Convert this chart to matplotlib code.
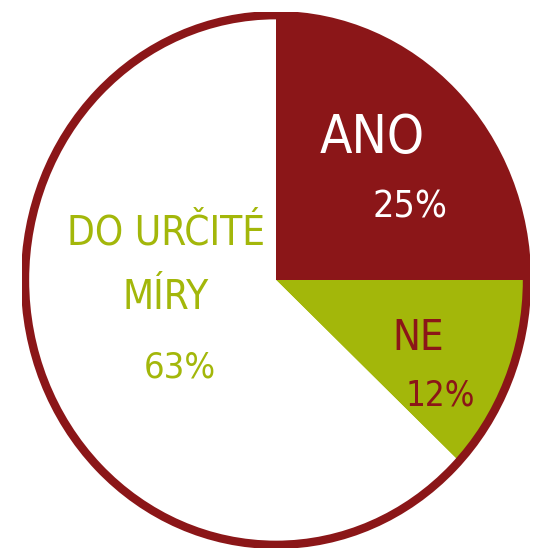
import matplotlib
matplotlib.use("Agg")
import matplotlib.pyplot as plt
from matplotlib.patches import Ellipse

# === Data ===
labels = ["ANO", "NE", "DO URČITÉ\nMÍRY"]
values = [25, 12, 63]
pct_labels = ["25%", "12%", "63%"]

red = "#8b1618"
green = "#a3b70a"
colors = [red, green, "white"]

W, H = 536, 554
fig = plt.figure(figsize=(W / 100, H / 100), dpi=100)
fig.patch.set_facecolor("white")

# axes spans the hand-drawn circle (slightly taller than wide)
ax = fig.add_axes([22 / W, 6 / H, 508 / W, 536 / H])
ax.pie(values, colors=colors, startangle=90, counterclock=False,
       wedgeprops=dict(linewidth=0))
ax.add_patch(Ellipse((0, 0), 2, 2, fill=False, edgecolor=red, linewidth=6))
ax.set_aspect("auto")
ax.set_xlim(-1.012, 1.012)
ax.set_ylim(-1.012, 1.012)
ax.axis("off")

def put(txt, px, py, size, color, spacing=1.35):
    fig.text(px / W, 1 - py / H, txt, ha="center", va="center",
             fontsize=size, color=color, family="DejaVu Sans",
             fontstretch="condensed", linespacing=spacing)

put(labels[0], 372, 138, 38, "white")
put(pct_labels[0], 410, 208, 27, "white")
put(labels[1], 418, 338, 30, red)
put(pct_labels[1], 440, 395, 25, red)
put(labels[2], 166, 266, 29, green, spacing=1.8)
put(pct_labels[2], 180, 367, 26, green)

fig.savefig("out.png", dpi=100, facecolor="white")
